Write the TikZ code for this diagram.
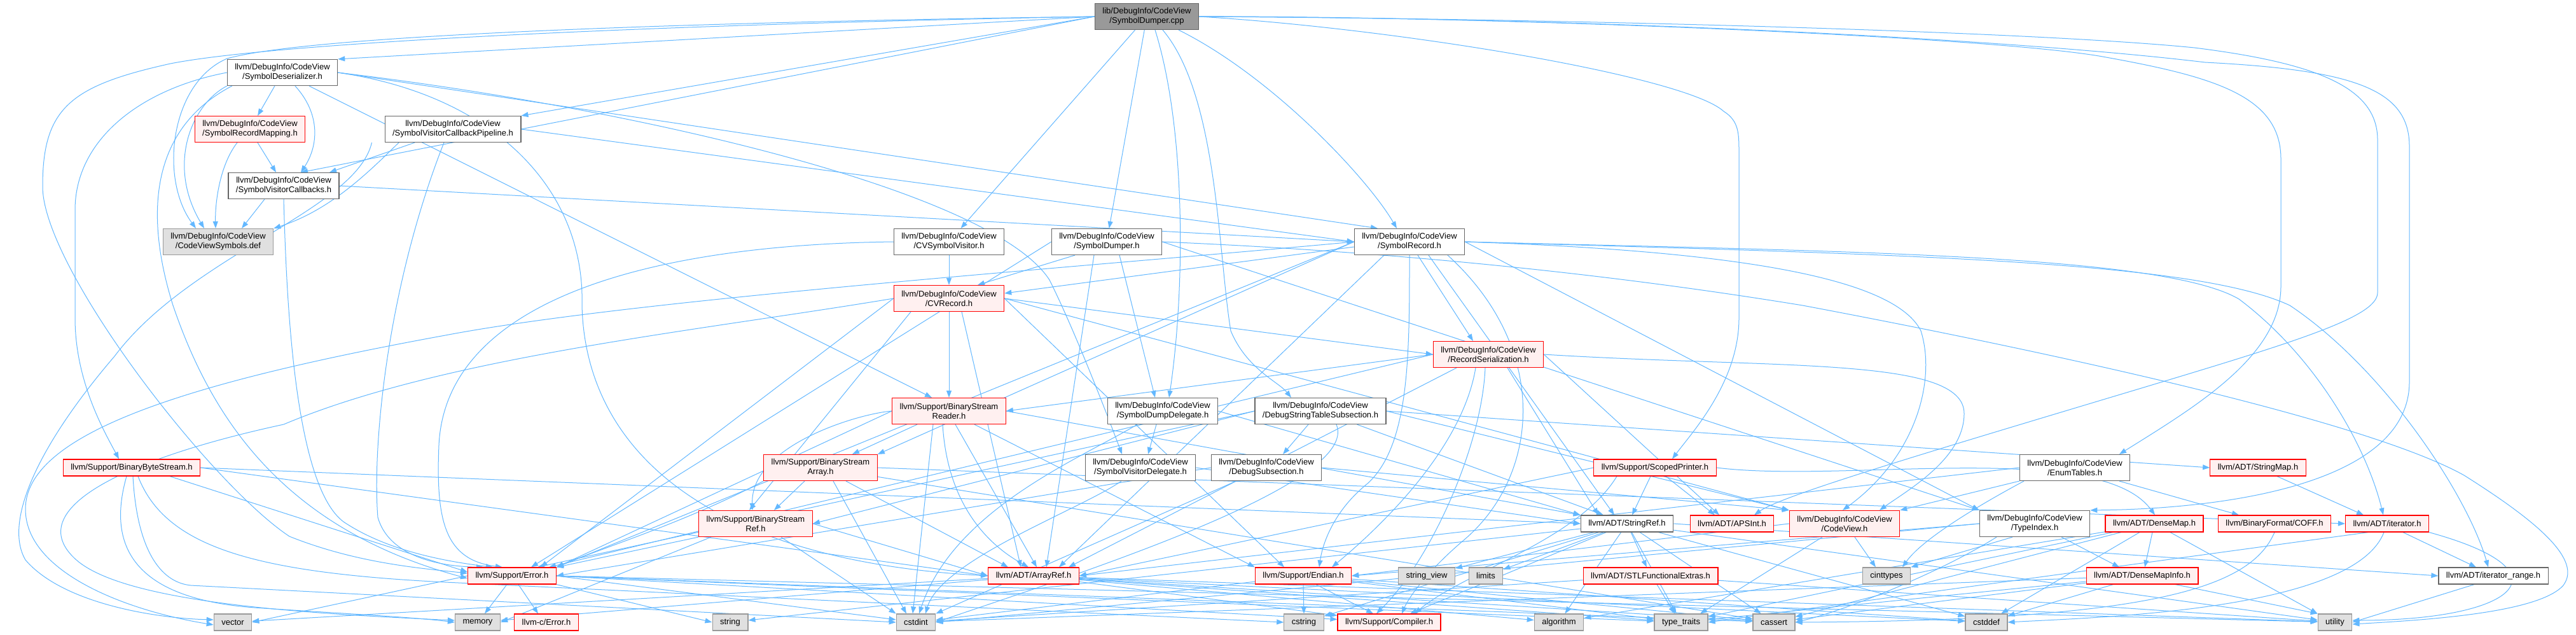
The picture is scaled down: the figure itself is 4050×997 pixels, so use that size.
\documentclass[tikz,border=0pt]{standalone}
\usepackage{fontspec}
\setmainfont{Liberation Sans}
\usetikzlibrary{arrows.meta,backgrounds}

\definecolor{edgeblue}{HTML}{63B8FF}
\definecolor{frame}{HTML}{666666}
\definecolor{sysframe}{HTML}{999999}
\definecolor{sysfill}{HTML}{E0E0E0}
\definecolor{redfill}{HTML}{FFF0F0}
\definecolor{rootfill}{HTML}{999999}

\begin{document}
\begin{tikzpicture}[
  x=1pt, y=-1pt,
  font=\fontsize{13}{15}\selectfont,
  hdr/.style={draw=frame, fill=white, line width=1.2pt, rectangle, align=center,
              inner xsep=12pt, inner ysep=3pt, minimum height=26pt},
  dbl/.style={minimum height=41pt},
  rootn/.style={hdr, fill=rootfill},
  redn/.style={hdr, draw=red, fill=redfill},
  sysn/.style={hdr, draw=sysframe, fill=sysfill},
  incl/.style={-{Triangle[length=11pt,width=8pt]}, draw=edgeblue, line width=1pt}
]
\useasboundingbox (0,0) rectangle (4050,997);

% --- nodes -----------------------------------------------------------------
\node[rootn, dbl] (root) at (1803,26) {lib/DebugInfo/CodeView\\/SymbolDumper.cpp};

\node[hdr, dbl]  (deser)  at (444,114)  {llvm/DebugInfo/CodeView\\/SymbolDeserializer.h};
\node[redn, dbl] (recmap) at (393,203)  {llvm/DebugInfo/CodeView\\/SymbolRecordMapping.h};
\node[hdr, dbl]  (pipe)   at (712,203)  {llvm/DebugInfo/CodeView\\/SymbolVisitorCallbackPipeline.h};
\node[hdr, dbl]  (vcb)    at (446,292)  {llvm/DebugInfo/CodeView\\/SymbolVisitorCallbacks.h};
\node[sysn, dbl] (cvsym)  at (343,380)  {llvm/DebugInfo/CodeView\\/CodeViewSymbols.def};
\node[hdr, dbl]  (cvsv)   at (1492,380) {llvm/DebugInfo/CodeView\\/CVSymbolVisitor.h};
\node[hdr, dbl]  (sdumph) at (1740,380) {llvm/DebugInfo/CodeView\\/SymbolDumper.h};
\node[hdr, dbl]  (symrec) at (2216,380) {llvm/DebugInfo/CodeView\\/SymbolRecord.h};
\node[redn, dbl] (cvrec)  at (1492,469) {llvm/DebugInfo/CodeView\\/CVRecord.h};
\node[redn, dbl] (recser) at (2340,557) {llvm/DebugInfo/CodeView\\/RecordSerialization.h};

\node[redn, dbl] (bsreader) at (1492,646) {llvm/Support/BinaryStream\\Reader.h};
\node[hdr, dbl]  (dumpdel)  at (1828,646) {llvm/DebugInfo/CodeView\\/SymbolDumpDelegate.h};
\node[hdr, dbl]  (dsts)     at (2076,646) {llvm/DebugInfo/CodeView\\/DebugStringTableSubsection.h};

\node[redn]      (bbs)    at (207,735)  {llvm/Support/BinaryByteStream.h};
\node[redn, dbl] (bsarr)  at (1290,735) {llvm/Support/BinaryStream\\Array.h};
\node[hdr, dbl]  (visdel) at (1793,735) {llvm/DebugInfo/CodeView\\/SymbolVisitorDelegate.h};
\node[hdr, dbl]  (dsub)   at (1991,735) {llvm/DebugInfo/CodeView\\/DebugSubsection.h};
\node[redn]      (scoped) at (2602,735) {llvm/Support/ScopedPrinter.h};
\node[hdr, dbl]  (enumt)  at (3262,735) {llvm/DebugInfo/CodeView\\/EnumTables.h};
\node[redn]      (strmap) at (3550,735) {llvm/ADT/StringMap.h};

\node[redn, dbl] (bsref)  at (1188,823) {llvm/Support/BinaryStream\\Ref.h};
\node[hdr]       (strref) at (2558,823) {llvm/ADT/StringRef.h};
\node[redn]      (apsint) at (2723,823) {llvm/ADT/APSInt.h};
\node[redn, dbl] (cvh)    at (2900,823) {llvm/DebugInfo/CodeView\\/CodeView.h};
\node[hdr, dbl]  (tidx)   at (3199,823) {llvm/DebugInfo/CodeView\\/TypeIndex.h};
\node[redn]      (dmap)   at (3387,823) {llvm/ADT/DenseMap.h};
\node[redn]      (coff)   at (3576,823) {llvm/BinaryFormat/COFF.h};
\node[redn]      (iter)   at (3753,823) {llvm/ADT/iterator.h};

\node[redn] (err)       at (805,905)  {llvm/Support/Error.h};
\node[redn] (aref)      at (1625,905) {llvm/ADT/ArrayRef.h};
\node[redn] (endian)    at (2049,905) {llvm/Support/Endian.h};
\node[sysn] (sview)     at (2243,905) {string\_view};
\node[sysn] (limits)    at (2336,905) {limits};
\node[redn] (stlfe)     at (2595,905) {llvm/ADT/STLFunctionalExtras.h};
\node[sysn] (cinttypes) at (2966,905) {cinttypes};
\node[redn] (dmi)       at (3368,905) {llvm/ADT/DenseMapInfo.h};
\node[hdr]  (irange)    at (3920,905) {llvm/ADT/iterator\_range.h};

\node[sysn] (vector)     at (366,978)  {vector};
\node[sysn] (memory)     at (751,978)  {memory};
\node[redn] (cerr)       at (859,978)  {llvm-c/Error.h};
\node[sysn] (string)     at (1148,978) {string};
\node[sysn] (cstdint)    at (1440,978) {cstdint};
\node[sysn] (cstring)    at (2050,978) {cstring};
\node[redn] (compiler)   at (2184,978) {llvm/Support/Compiler.h};
\node[sysn] (algorithm)  at (2451,978) {algorithm};
\node[sysn] (typetraits) at (2643,978) {type\_traits};
\node[sysn] (cassert)    at (2789,978) {cassert};
\node[sysn] (cstddef)    at (3123,978) {cstddef};
\node[sysn] (utility)    at (3671,978) {utility};

% --- edges -----------------------------------------------------------------
\begin{scope}[on background layer]
\fill[white] (0,0) rectangle (4050,997);

% root
\draw[incl] (root.west) -- (deser.north east);
\draw[incl] (root.west) -- (pipe.north east);
\draw[incl] (root.west) -- ([xshift=27pt]vcb.north);
\foreach \t in {cvsv,sdumph} \draw[incl] (root) -- (\t);
\draw[incl] (root.west) .. controls (1000,36) and (480,58) .. (357,92)
  .. controls (268,130) and (250,280) .. ([xshift=-35pt]cvsym.north);
\draw[incl] (root.west) .. controls (950,40) and (420,70) .. (268,100)
  .. controls (110,135) and (67,170) .. (67,293)
  .. controls (67,420) and (330,760) .. (455,843)
  .. controls (560,885) and (660,893) .. ([yshift=4pt]err.west);
\draw[incl] ([xshift=13pt]root.south) .. controls (1864,200) and (1864,450) .. ([xshift=10pt]dumpdel.north);
\draw[incl] ([xshift=25pt]root.south) .. controls (1915,150) and (1915,400) .. (1935,520)
  .. controls (1960,580) and (2010,600) .. ([xshift=-46pt]dsts.north);
\draw[incl] ([xshift=50pt]root.south) .. controls (2000,120) and (2150,280) .. ([xshift=-20pt]symrec.north);
\draw[incl] (root.east) .. controls (2200,45) and (2650,120) .. (2710,175)
  .. controls (2734,190) and (2734,210) .. (2734,240) -- (2734,500)
  .. controls (2734,600) and (2660,680) .. ([xshift=27pt]scoped.north);
\draw[incl] (root.east) .. controls (2300,25) and (3100,55) .. (3300,88)
  .. controls (3480,120) and (3586,150) .. (3586,250) -- (3586,450)
  .. controls (3586,560) and (3450,640) .. ([xshift=70pt]enumt.north);
\draw[incl] (root.east) .. controls (2500,30) and (3200,50) .. (3450,75)
  .. controls (3650,100) and (3738,140) .. (3738,220) -- (3738,460)
  .. controls (3738,500) and (3600,540) .. (3300,630)
  .. controls (3000,720) and (2800,780) .. ([xshift=35pt]apsint.north);
\draw[incl] (root.east) .. controls (2500,28) and (3150,60) .. (3467,98)
  .. controls (3700,110) and (3788,140) .. (3788,230) -- (3788,600)
  .. controls (3788,760) and (3500,800) .. (tidx.north east);

% SymbolDeserializer.h
\draw[incl] (deser) -- (recmap);
\draw[incl] ([xshift=20pt]deser.south) .. controls (505,180) and (500,230) .. ([xshift=27pt]vcb.north);
\draw[incl] (deser.south west) .. controls (300,165) and (262,260) .. ([xshift=-22pt]cvsym.north);
\draw[incl] (deser.west) .. controls (220,140) and (118,220) .. (118,330) -- (118,500)
  .. controls (118,600) and (165,680) .. ([xshift=-20pt]bbs.north);
\draw[incl] ([xshift=8pt]deser.south west) .. controls (240,200) and (225,330) .. (272,480)
  .. controls (330,650) and (440,830) .. ([yshift=-4pt]err.west);
\draw[incl] (deser.east) -- ([xshift=-50pt]symrec.north);
\draw[incl] (deser.east) .. controls (1000,170) and (1560,300) .. (1650,440)
  .. controls (1690,520) and (1740,650) .. ([xshift=-29pt]visdel.north);
\draw[incl] (deser.east) .. controls (780,150) and (920,300) .. (915,480)
  .. controls (920,700) and (1100,880) .. (aref.west);
\draw[incl] (deser) -- ([xshift=-27pt]bsreader.north);

% SymbolRecordMapping.h
\draw[incl] ([xshift=12pt]recmap.south) -- ([xshift=-12pt]vcb.north);
\draw[incl] ([xshift=-20pt]recmap.south) .. controls (345,260) and (338,320) .. ([xshift=-4pt]cvsym.north);

% SymbolVisitorCallbackPipeline.h
\draw[incl] ([xshift=-60pt]pipe.south) -- ([xshift=72pt]vcb.north);
\draw[incl] ([xshift=-85pt]pipe.south) .. controls (580,270) and (520,330) .. (cvsym.north east);
\draw[incl] (pipe.east) -- (symrec.west);
\draw[incl] ([xshift=-14pt]pipe.south) .. controls (609,450) and (585,700) .. (594,813)
  .. controls (610,870) and (680,890) .. ([xshift=-45pt]err.north);
\draw[incl] ([xshift=-20pt]pipe.south west) .. controls (560,330) and (300,400) .. (180,560)
  .. controls (60,700) and (5,820) .. (40,880)
  .. controls (100,950) and (250,972) .. ([yshift=4pt]vector.west);

% SymbolVisitorCallbacks.h
\draw[incl] ([xshift=-30pt]vcb.south) -- ([xshift=37pt]cvsym.north);
\draw[incl] (vcb.east) -- (symrec.west);
\draw[incl] (vcb.south) .. controls (450,450) and (460,760) .. (540,820)
  .. controls (600,860) and (680,880) .. ([xshift=-30pt]err.north);

% CVSymbolVisitor.h, SymbolDumper.h
\draw[incl] (cvsv) -- (cvrec);
\draw[incl] (cvsv.west) .. controls (1000,385) and (700,480) .. (690,700)
  .. controls (685,820) and (700,880) .. ([xshift=-15pt]err.north);
\draw[incl] ([xshift=-50pt]sdumph.south) -- ([xshift=45pt]cvrec.north);
\draw[incl] ([xshift=20pt]sdumph.south) -- ([xshift=-12pt]dumpdel.north);
\draw[incl] (sdumph.east) -- (tidx.north west);
\draw[incl] (sdumph.west) -- ([xshift=30pt]err.north);
\draw[incl] ([xshift=-20pt]sdumph.south) -- ([xshift=20pt]aref.north);
\draw[incl] (sdumph.east) .. controls (2300,400) and (2650,450) .. (2834,480)
  .. controls (3100,530) and (3700,650) .. (3874,747)
  .. controls (3990,820) and (4060,880) .. (4030,920)
  .. controls (3990,965) and (3800,975) .. ([yshift=-3pt]utility.east);

% SymbolRecord.h
\draw[incl] ([xshift=13pt]symrec.south) -- ([xshift=-24pt]recser.north);
\draw[incl] ([yshift=-8pt]symrec.west) -- ([yshift=8pt]cvrec.east);
\draw[incl] (symrec.east) -- (tidx.north west);
\draw[incl] ([xshift=30pt]symrec.south) -- ([xshift=-20pt]strref.north);
\draw[incl] (symrec.west) -- (bsarr.north east);
\draw[incl] (symrec.west) -- (err.north east);
\draw[incl] ([xshift=-40pt]symrec.south) -- ([xshift=40pt]aref.north);
\draw[incl] (symrec.south) .. controls (2216,560) and (2216,700) .. (2150,760)
  .. controls (2100,800) and (2080,850) .. ([xshift=25pt]endian.north);
\draw[incl] ([xshift=60pt]symrec.south) .. controls (2440,550) and (2420,750) .. (2300,850)
  .. controls (2230,910) and (2210,950) .. ([xshift=20pt]compiler.north);
\draw[incl] (symrec.east) .. controls (2750,395) and (2980,440) .. (3020,520)
  .. controls (3045,600) and (3010,720) .. ([xshift=-3pt]cvh.north);
\draw[incl] (symrec.east) .. controls (2900,395) and (3400,400) .. (3520,470)
  .. controls (3640,560) and (3720,700) .. ([xshift=-6pt]iter.north);
\draw[incl] (symrec.east) .. controls (3000,400) and (3450,410) .. (3600,480)
  .. controls (3750,580) and (3880,780) .. ([xshift=-8pt]irange.north);
\draw[incl] (symrec.west) .. controls (1700,420) and (1000,470) .. (700,527)
  .. controls (300,600) and (40,680) .. (40,800)
  .. controls (40,900) and (200,960) .. ([yshift=-4pt]vector.west);

% CVRecord.h
\draw[incl] (cvrec) -- (bsreader);
\draw[incl] (cvrec.east) -- (recser.west);
\draw[incl] ([xshift=-60pt]cvrec.south) -- ([xshift=-10pt]bsref.north);
\draw[incl] (cvrec.west) -- ([xshift=45pt]err.north);
\draw[incl] ([xshift=20pt]cvrec.south) -- ([xshift=-20pt]aref.north);
\draw[incl] (cvrec.east) -- (cvh.north west);
\draw[incl] (cvrec.east) -- ([xshift=-30pt]endian.north);
\draw[incl] (cvrec.west) .. controls (1100,520) and (700,560) .. (446,667)
  .. controls (200,720) and (30,800) .. (120,880)
  .. controls (200,950) and (500,965) .. ([yshift=3pt]memory.west);

% RecordSerialization.h
\draw[incl] (recser.west) -- (bsreader.east);
\draw[incl] ([xshift=-20pt]recser.south) .. controls (2300,700) and (2180,820) .. ([xshift=45pt]endian.north);
\draw[incl] ([xshift=-5pt]recser.south) .. controls (2330,700) and (2250,880) .. ([xshift=-20pt]compiler.north);
\draw[incl] ([xshift=30pt]recser.south) -- ([xshift=-45pt]strref.north);
\draw[incl] (recser.east) .. controls (2800,580) and (3088,560) .. (3088,650)
  .. controls (3088,720) and (3000,770) .. ([xshift=55pt]cvh.north);
\draw[incl] (recser.east) -- ([xshift=-20pt]apsint.north);
\draw[incl] (recser.west) -- ([xshift=58pt]err.north);
\draw[incl] ([xshift=-50pt]recser.south) -- ([xshift=55pt]aref.north);

% BinaryStreamReader.h
\draw[incl] ([xshift=-50pt]bsreader.south) -- ([xshift=50pt]bsarr.north);
\draw[incl] (bsreader.west) .. controls (1350,650) and (1180,700) .. ([xshift=-5pt]bsref.north);
\draw[incl] ([xshift=-10pt]bsreader.south) .. controls (1490,800) and (1560,860) .. ([xshift=-8pt]aref.north);
\draw[incl] ([xshift=10pt]bsreader.south) -- ([xshift=5pt]aref.north);
\draw[incl] (bsreader.west) -- (err.north east);
\draw[incl] ([xshift=40pt]bsreader.south) -- (endian.north west);
\draw[incl] (bsreader.east) -- (strref.north west);
\draw[incl] ([xshift=-25pt]bsreader.south) -- ([xshift=-5pt]cstdint.north);

% SymbolDumpDelegate.h, SymbolVisitorDelegate.h
\draw[incl] ([xshift=-10pt]dumpdel.south) -- ([xshift=12pt]visdel.north);
\draw[incl] ([xshift=-40pt]dumpdel.south) .. controls (1700,720) and (1500,800) .. ([xshift=5pt]cstdint.north);
\draw[incl] (dumpdel.east) -- (strref.north west);
\draw[incl] ([xshift=-30pt]visdel.south) .. controls (1700,800) and (1480,880) .. ([xshift=15pt]cstdint.north);
\draw[incl] (visdel.east) -- (strref.west);

% DebugStringTableSubsection.h, DebugSubsection.h
\draw[incl] ([xshift=-19pt]dsts.south) -- ([xshift=26pt]dsub.north);
\draw[incl] (dsts.east) -- (strmap.west);
\draw[incl] (dsts) -- (strref);
\draw[incl] (dsts.east) -- (cvh.north west);
\draw[incl] (dsts.west) -- (bsref.east);
\draw[incl] (dsts.west) -- ([xshift=40pt]err.north);
\draw[incl] ([xshift=25pt]dsts.south) .. controls (2140,760) and (1700,900) .. (cstdint.east);
\draw[incl] (dsub.east) -- (cvh.north west);
\draw[incl] (dsub.west) -- (err.east);
\draw[incl] (dsub) -- (cstdint.north east);

% BinaryByteStream.h
\draw[incl] (bbs.east) -- (strref.west);
\draw[incl] (bbs.east) -- (aref.west);
\draw[incl] ([xshift=60pt]bbs.south) -- ([yshift=6pt]err.west);
\draw[incl] ([xshift=-8pt]bbs.south) .. controls (170,850) and (200,940) .. (400,955)
  .. controls (550,965) and (650,970) .. (memory.west);
\draw[incl] ([xshift=2pt]bbs.south) .. controls (215,860) and (250,915) .. (300,920) -- (cstdint.west);
\draw[incl] ([xshift=10pt]bbs.south) .. controls (260,860) and (400,900) .. (700,915) -- (cstring.west);

% BinaryStreamArray.h, BinaryStreamRef.h
\draw[incl] ([xshift=-25pt]bsarr.south) -- ([xshift=29pt]bsref.north);
\draw[incl] ([xshift=40pt]bsarr.south) -- ([xshift=-40pt]aref.north);
\draw[incl] (bsarr.south west) .. controls (1080,820) and (950,860) .. (err.north east);
\draw[incl] (bsarr.east) -- (iter.west);
\draw[incl] (bsarr) -- (cassert);
\draw[incl] ([xshift=20pt]bsarr.south) -- ([xshift=-15pt]cstdint.north);
\draw[incl] (bsref.east) -- (aref.west);
\draw[incl] (bsref.south west) -- (err.north east);
\draw[incl] ([xshift=40pt]bsref.south) -- (cstdint.north west);
\draw[incl] ([xshift=-70pt]bsref.south) -- (memory.east);

% ScopedPrinter.h, EnumTables.h, StringMap.h
\draw[incl] ([xshift=17pt]scoped.south) -- ([xshift=-27pt]apsint.north);
\draw[incl] ([xshift=-7pt]scoped.south) -- ([xshift=8pt]strref.north);
\draw[incl] (scoped.east) .. controls (2900,760) and (3300,690) .. ([xshift=1pt]dmap.north);
\draw[incl] ([xshift=-60pt]scoped.south) .. controls (2480,850) and (2300,900) .. ([xshift=40pt]compiler.north);
\draw[incl] (scoped.west) -- (aref.east);
\draw[incl] (enumt.south west) -- (cvh.north east);
\draw[incl] ([xshift=70pt]enumt.south) -- ([xshift=-56pt]coff.north);
\draw[incl] ([xshift=-80pt]enumt.south) .. controls (3100,800) and (3020,850) .. ([xshift=25pt]cinttypes.north);
\draw[incl] (enumt.west) -- (aref.east);
\draw[incl] ([xshift=30pt]strmap.south) -- ([xshift=-37pt]iter.north);

% StringRef.h
\foreach \t in {sview,limits,stlfe,algorithm,cstring,cstddef,compiler,typetraits,utility,cassert,string}
  \draw[incl] (strref) -- (\t);
\draw[incl] (strref.east) -- (irange.west);

% TypeIndex.h, CodeView.h
\draw[incl] ([xshift=42pt]tidx.south) -- ([xshift=-36pt]dmi.north);
\draw[incl] ([xshift=-35pt]tidx.south) -- (cinttypes.north east);
\draw[incl] ([xshift=-60pt]tidx.south) .. controls (3050,900) and (2900,960) .. (cassert.east);
\draw[incl] (tidx.west) -- (cstdint.east);
\draw[incl] (tidx.west) -- (endian.east);
\draw[incl] ([xshift=16pt]cvh.south) -- ([xshift=-17pt]cinttypes.north);
\draw[incl] ([xshift=-35pt]cvh.south) -- ([xshift=30pt]typetraits.north);
\draw[incl] (cvh.west) -- (endian.east);

% DenseMap.h, COFF.h, iterator.h, iterator_range.h
\draw[incl] ([xshift=-3pt]dmap.south) -- ([xshift=4pt]dmi.north);
\draw[incl] ([xshift=25pt]dmap.south) -- (utility.north west);
\foreach \t in {algorithm,cassert,cstddef,typetraits} \draw[incl] (dmap) -- (\t);
\draw[incl] (coff.south) .. controls (3540,920) and (3400,975) .. (cassert.east);
\draw[incl] ([xshift=25pt]iter.south) -- ([xshift=-27pt]irange.north);
\draw[incl] (iter.south east) .. controls (4050,900) and (3950,975) .. ([yshift=3pt]utility.east);
\draw[incl] ([xshift=-5pt]iter.south) .. controls (3700,960) and (3300,970) .. (cstddef.east);
\draw[incl] ([xshift=-30pt]iter.south) -- (typetraits.east);
\draw[incl] ([xshift=-30pt]irange.south) -- (utility.east);

% Error.h, ArrayRef.h, Endian.h and the rest
\draw[incl] ([xshift=-8pt]err.south) -- ([xshift=11pt]memory.north);
\draw[incl] ([xshift=10pt]err.south) -- ([xshift=-13pt]cerr.north);
\draw[incl] (err.south east) -- (string.west);
\draw[incl] (err.west) -- (vector.east);
\foreach \t in {cassert,cstdint,typetraits,utility,compiler} \draw[incl] (err.east) -- (\t);
\foreach \t in {cassert,cstddef,memory,typetraits,vector,algorithm,compiler,utility}
  \draw[incl] (aref) -- (\t);
\draw[incl] (endian.south) -- (cstring.north);
\draw[incl] ([xshift=20pt]endian.south) -- ([xshift=-25pt]compiler.north);
\foreach \t in {cassert,cstddef,cstdint,typetraits} \draw[incl] (endian) -- (\t);
\draw[incl] ([xshift=10pt]stlfe.south) -- ([xshift=-10pt]typetraits.north);
\foreach \t in {cstdint,utility} \draw[incl] (stlfe) -- (\t);
\draw[incl] ([xshift=52pt]dmi.south) -- (utility.north west);
\foreach \t in {cassert,cstddef,cstdint,typetraits} \draw[incl] (dmi) -- (\t);
\end{scope}
\end{tikzpicture}
\end{document}
